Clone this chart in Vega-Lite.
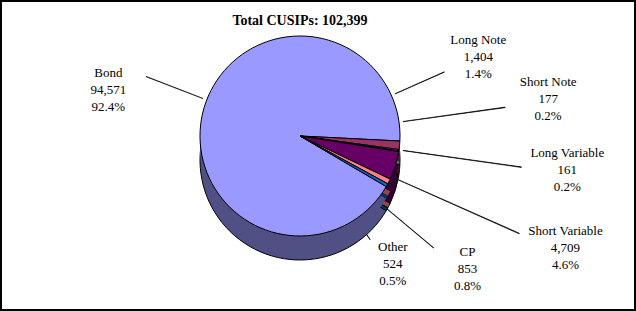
{
  "$schema": "https://vega.github.io/schema/vega-lite/v6.json",
  "width": 634,
  "height": 309,
  "padding": {"left": 1, "top": 1, "right": 1, "bottom": 1},
  "autosize": {"type": "none"},
  "background": "white",
  "view": {"stroke": "black", "strokeWidth": 2},
  "config": {
    "style": {"view": {"stroke": "black", "strokeWidth": 2}},
    "mark": {"font": "Liberation Serif"},
    "text": {"font": "Liberation Serif", "fontSize": 13, "color": "black"}
  },
  "title": {
    "text": "Total CUSIPs: 102,399",
    "font": "Liberation Serif",
    "fontSize": 14,
    "fontWeight": "bold",
    "color": "black",
    "anchor": "middle",
    "dx": -18,
    "offset": -34,
    "baseline": "middle"
  },
  "data": {
    "values": [
      {"i": 1, "name": "Bond", "n": 94571, "share": 0.924},
      {"i": 2, "name": "Long Note", "n": 1404, "share": 0.014},
      {"i": 3, "name": "Short Note", "n": 177, "share": 0.002},
      {"i": 4, "name": "Long Variable", "n": 161, "share": 0.002},
      {"i": 5, "name": "Short Variable", "n": 4709, "share": 0.046},
      {"i": 6, "name": "CP", "n": 853, "share": 0.008},
      {"i": 7, "name": "Other", "n": 524, "share": 0.005}
    ]
  },
  "resolve": {"scale": {"theta": "independent", "radius": "independent", "color": "independent"}},
  "layer": [
    {
      "transform": [{"filter": "datum.name !== 'Bond'"}],
      "mark": {"type": "arc", "xOffset": -18, "yOffset": -19.5, "color": "black", "stroke": "black", "strokeWidth": 0.6},
      "encoding": {
        "theta": {"field": "name", "type": "nominal",
          "scale": {"type": "band", "paddingInner": 0.99, "paddingOuter": 0, "domain": ["Long Note", "Short Note", "Long Variable", "Short Variable", "CP", "Other"], "range": [1.1519, 2.5482]}},
        "radius": {"field": "name", "type": "nominal",
          "scale": {"type": "point", "padding": 0, "domain": ["Other", " ", "Long Note", "CP", "  ", "Short Note", "Long Variable", "Short Variable"], "range": [125, 240]}},
        "radius2": {"value": 104}
      }
    },
    {
      "transform": [{"filter": "datum.name === 'Bond'"}],
      "mark": {"type": "arc", "xOffset": -18, "yOffset": -19.5, "color": "black", "stroke": "black", "strokeWidth": 0.6},
      "encoding": {
        "theta": {"field": "name", "type": "nominal",
          "scale": {"type": "band", "paddingInner": 0, "paddingOuter": 0, "domain": ["Bond"], "range": [5.08, 5.082]}},
        "radius": {"field": "name", "type": "nominal",
          "scale": {"type": "point", "padding": 0.5, "domain": ["Bond"], "range": [165, 165]}},
        "radius2": {"value": 104}
      }
    },
    {
      "mark": {"type": "arc", "outerRadius": 100, "xOffset": -18, "yOffset": 4.5, "stroke": "black", "strokeWidth": 1},
      "encoding": {
        "theta": {"field": "n", "type": "quantitative", "stack": true, "scale": {"range": [2.1014, 8.3846]}},
        "order": {"field": "i"},
        "color": {"field": "name", "type": "nominal", "legend": null,
          "scale": {"domain": ["Bond", "Long Note", "Short Note", "Long Variable", "Short Variable", "CP", "Other"],
                    "range": ["#505084", "#4d1a33", "#808066", "#668080", "#330033", "#904848", "#003366"]}}
      }
    },
    {
      "mark": {"type": "arc", "outerRadius": 100, "xOffset": -18, "yOffset": -7.5},
      "encoding": {
        "theta": {"field": "n", "type": "quantitative", "stack": true, "scale": {"range": [2.1014, 8.3846]}},
        "order": {"field": "i"},
        "color": {"field": "name", "type": "nominal", "legend": null,
          "scale": {"domain": ["Bond", "Long Note", "Short Note", "Long Variable", "Short Variable", "CP", "Other"],
                    "range": ["#505084", "#4d1a33", "#808066", "#668080", "#330033", "#904848", "#003366"]}}
      }
    },
    {
      "mark": {"type": "arc", "outerRadius": 100, "xOffset": -18, "yOffset": -19.5, "stroke": "black", "strokeWidth": 1},
      "encoding": {
        "theta": {"field": "n", "type": "quantitative", "stack": true, "scale": {"range": [2.1014, 8.3846]}},
        "order": {"field": "i"},
        "color": {"field": "name", "type": "nominal", "legend": null,
          "scale": {"domain": ["Bond", "Long Note", "Short Note", "Long Variable", "Short Variable", "CP", "Other"],
                    "range": ["#9999ff", "#993366", "#ffffcc", "#ccffff", "#660066", "#ff8080", "#0066cc"]}}
      }
    },
    {
      "mark": {"type": "text", "font": "Liberation Serif", "fontSize": 13, "radius": 200, "xOffset": -18, "yOffset": -19.5, "dy": -6},
      "encoding": {
        "theta": {"field": "n", "type": "quantitative", "stack": true, "scale": {"range": [2.1014, 8.3846]}},
        "order": {"field": "i"},
        "detail": {"field": "name"},
        "text": {"condition": {"test": "datum.name === 'Bond'", "field": "name"}, "value": ""}
      }
    },
    {
      "mark": {"type": "text", "font": "Liberation Serif", "fontSize": 13, "radius": 200, "xOffset": -18, "yOffset": -19.5, "dy": 11},
      "encoding": {
        "theta": {"field": "n", "type": "quantitative", "stack": true, "scale": {"range": [2.1014, 8.3846]}},
        "order": {"field": "i"},
        "detail": {"field": "name"},
        "text": {"condition": {"test": "datum.name === 'Bond'", "field": "n", "format": ","}, "value": ""}
      }
    },
    {
      "mark": {"type": "text", "font": "Liberation Serif", "fontSize": 13, "radius": 200, "xOffset": -18, "yOffset": -19.5, "dy": 28},
      "encoding": {
        "theta": {"field": "n", "type": "quantitative", "stack": true, "scale": {"range": [2.1014, 8.3846]}},
        "order": {"field": "i"},
        "detail": {"field": "name"},
        "text": {"condition": {"test": "datum.name === 'Bond'", "field": "share", "format": ".1%"}, "value": ""}
      }
    },
    {
      "transform": [{"filter": "datum.name !== 'Bond'"}],
      "mark": {"type": "text", "font": "Liberation Serif", "fontSize": 13, "xOffset": -18, "yOffset": -19.5, "dy": -17},
      "encoding": {
        "theta": {"field": "name", "type": "nominal",
          "scale": {"type": "point", "padding": 0, "domain": ["Long Note", "Short Note", "Long Variable", "Short Variable", "CP", "Other"], "range": [1.1519, 2.5133]}},
        "radius": {"field": "name", "type": "nominal",
          "scale": {"type": "point", "padding": 0, "domain": ["Other", " ", "Long Note", "CP", "  ", "Short Note", "Long Variable", "Short Variable"], "range": [158, 288]}},
        "text": {"field": "name"}
      }
    },
    {
      "transform": [{"filter": "datum.name !== 'Bond'"}],
      "mark": {"type": "text", "font": "Liberation Serif", "fontSize": 13, "xOffset": -18, "yOffset": -19.5},
      "encoding": {
        "theta": {"field": "name", "type": "nominal",
          "scale": {"type": "point", "padding": 0, "domain": ["Long Note", "Short Note", "Long Variable", "Short Variable", "CP", "Other"], "range": [1.1519, 2.5133]}},
        "radius": {"field": "name", "type": "nominal",
          "scale": {"type": "point", "padding": 0, "domain": ["Other", " ", "Long Note", "CP", "  ", "Short Note", "Long Variable", "Short Variable"], "range": [158, 288]}},
        "text": {"field": "n", "format": ","}
      }
    },
    {
      "transform": [{"filter": "datum.name !== 'Bond'"}],
      "mark": {"type": "text", "font": "Liberation Serif", "fontSize": 13, "xOffset": -18, "yOffset": -19.5, "dy": 17},
      "encoding": {
        "theta": {"field": "name", "type": "nominal",
          "scale": {"type": "point", "padding": 0, "domain": ["Long Note", "Short Note", "Long Variable", "Short Variable", "CP", "Other"], "range": [1.1519, 2.5133]}},
        "radius": {"field": "name", "type": "nominal",
          "scale": {"type": "point", "padding": 0, "domain": ["Other", " ", "Long Note", "CP", "  ", "Short Note", "Long Variable", "Short Variable"], "range": [158, 288]}},
        "text": {"field": "share", "format": ".1%"}
      }
    }
  ]
}
